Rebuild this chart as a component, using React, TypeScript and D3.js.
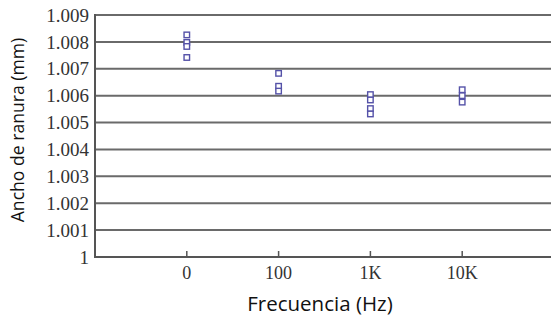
import React from "react";
import * as d3 from "d3";

const categories = ["0", "100", "1K", "10K"];
const seriesValues: number[][] = [
  [1.00826, 1.00798, 1.00783, 1.00742],
  [1.00683, 1.00635, 1.00617],
  [1.00604, 1.00584, 1.00552, 1.00532],
  [1.00622, 1.006, 1.00576],
];
const yTicks = [1, 1.001, 1.002, 1.003, 1.004, 1.005, 1.006, 1.007, 1.008, 1.009];
const yTickLabels = ["1", "1.001", "1.002", "1.003", "1.004", "1.005", "1.006", "1.007", "1.008", "1.009"];

export default function App() {
  const W = 551, H = 320;
  const left = 95, top = 15, bottom = 257;
  const x = d3.scaleLinear().domain([0, 5]).range([left, left + 5 * 91.8]);
  const y = d3.scaleLinear().domain([1, 1.009]).range([bottom, top]);
  const ms = 5.5;
  const serif = "'Liberation Serif', 'Times New Roman', serif";
  const sans = "'Open Sans', 'Noto Sans', sans-serif";
  return (
    <svg width={W} height={H} style={{ position: "absolute", left: 0, top: 0, background: "#fff" }}>
      {yTicks.slice(1).map((t) => (
        <line key={t} x1={left} x2={W} y1={y(t)} y2={y(t)} stroke="#6a6a6a" strokeWidth={2} />
      ))}
      <line x1={left} x2={W} y1={bottom} y2={bottom} stroke="#555" strokeWidth={2} />
      <line x1={left} x2={left} y1={top - 1} y2={bottom + 1} stroke="#555" strokeWidth={2} />
      {categories.map((c, i) => (
        <g key={c}>
          <line x1={x(i + 1)} x2={x(i + 1)} y1={bottom - 6} y2={bottom} stroke="#555" strokeWidth={1.5} />
          <text x={x(i + 1)} y={bottom + 22} textAnchor="middle" fontFamily={serif} fontSize={18} fill="#333">
            {c}
          </text>
        </g>
      ))}
      {yTicks.map((t, i) => (
        <text key={t} x={89} y={y(t)} dy="0.35em" textAnchor="end" fontFamily={serif} fontSize={19} fill="#333">
          {yTickLabels[i]}
        </text>
      ))}
      {seriesValues.map((vals, i) =>
        vals.map((v, j) => (
          <rect
            key={`${i}-${j}`}
            x={x(i + 1) - ms / 2}
            y={y(v) - ms / 2}
            width={ms}
            height={ms}
            fill="#fff"
            stroke="#5552a8"
            strokeWidth={1.4}
          />
        ))
      )}
      <text
        transform={`translate(24,130) rotate(-90)`}
        textAnchor="middle"
        fontFamily={sans}
        fontSize={17.6}
        fill="#111"
      >
        Ancho de ranura (mm)
      </text>
      <text x={320} y={311} textAnchor="middle" fontFamily={sans} fontSize={20.5} fill="#111">
        Frecuencia (Hz)
      </text>
    </svg>
  );
}
